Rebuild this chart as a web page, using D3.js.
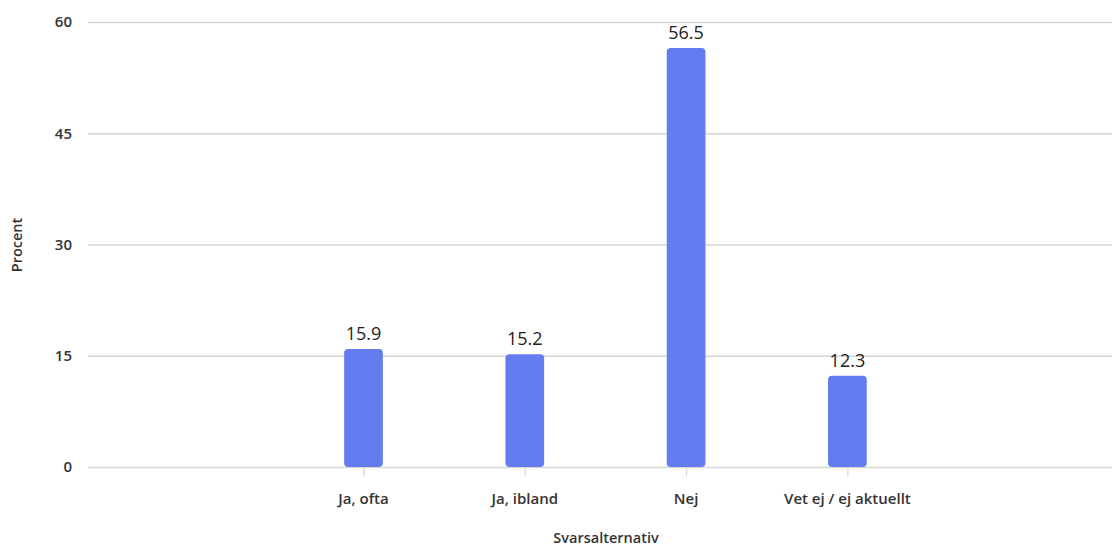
<!DOCTYPE html>
<html><head><meta charset="utf-8">
<script src="https://cdn.jsdelivr.net/npm/d3@7"></script>
<style>
html,body{margin:0;padding:0;background:#fff;}
svg{display:block;font-family:"Open Sans","Noto Sans",sans-serif;}
</style></head>
<body>
<svg id="c" width="1112" height="546"></svg>
<script>
const categories = ["Ja, ofta", "Ja, ibland", "Nej", "Vet ej / ej aktuellt"];
const values = [15.9, 15.2, 56.5, 12.3];
const yTicks = [0, 15, 30, 45, 60];

const svg = d3.select("#c");
const plotLeft = 88, plotRight = 1112, yBase = 467, yTop = 22;

const y = d3.scaleLinear().domain([0, 60]).range([yBase, yTop]);
const step = 161.3;
const x = d3.scaleBand().domain(categories)
  .range([363.5 - step/2, 363.5 - step/2 + step*categories.length])
  .paddingInner(0.76).paddingOuter(0.38);

// gridlines
svg.append("g").selectAll("line").data(yTicks).join("line")
  .attr("x1", plotLeft).attr("x2", plotRight)
  .attr("y1", d => y(d) + 0.5).attr("y2", d => y(d) + 0.5)
  .attr("stroke", "#d6d6d6").attr("stroke-width", 1.5);

// y tick labels
svg.append("g").selectAll("text").data(yTicks).join("text")
  .attr("x", 72).attr("y", d => y(d)).attr("dy", "0.35em")
  .attr("text-anchor", "end").attr("font-size", 15).attr("font-weight", 600)
  .attr("fill", "#333").text(d => d);

// x tick marks
svg.append("g").selectAll("line").data(categories).join("line")
  .attr("x1", d => x(d) + x.bandwidth()/2 + 0.5).attr("x2", d => x(d) + x.bandwidth()/2 + 0.5)
  .attr("y1", yBase).attr("y2", yBase + 9)
  .attr("stroke", "#d6d6d6").attr("stroke-width", 1.2);

// bars
svg.append("g").selectAll("rect").data(values).join("rect")
  .attr("x", (d,i) => x(categories[i]))
  .attr("width", x.bandwidth())
  .attr("y", d => y(d))
  .attr("height", d => yBase - y(d))
  .attr("rx", 4).attr("ry", 4)
  .attr("fill", "#637cf0");

// value labels
svg.append("g").selectAll("text").data(values).join("text")
  .attr("x", (d,i) => x(categories[i]) + x.bandwidth()/2)
  .attr("y", d => y(d) - 9)
  .attr("text-anchor", "middle").attr("font-size", 18).attr("font-weight", 500)
  .attr("fill", "#222").text(d => d.toFixed(1));

// x category labels
svg.append("g").selectAll("text").data(categories).join("text")
  .attr("x", d => x(d) + x.bandwidth()/2)
  .attr("y", 504)
  .attr("text-anchor", "middle").attr("font-size", 15).attr("font-weight", 600)
  .attr("fill", "#333").text(d => d);

// axis titles
svg.append("text").attr("x", 606).attr("y", 543)
  .attr("text-anchor", "middle").attr("font-size", 14.5).attr("font-weight", 600)
  .attr("fill", "#333").text("Svarsalternativ");
svg.append("text").attr("transform", "translate(22,245) rotate(-90)")
  .attr("text-anchor", "middle").attr("font-size", 14.5).attr("font-weight", 600)
  .attr("fill", "#333").text("Procent");
</script>
</body></html>
